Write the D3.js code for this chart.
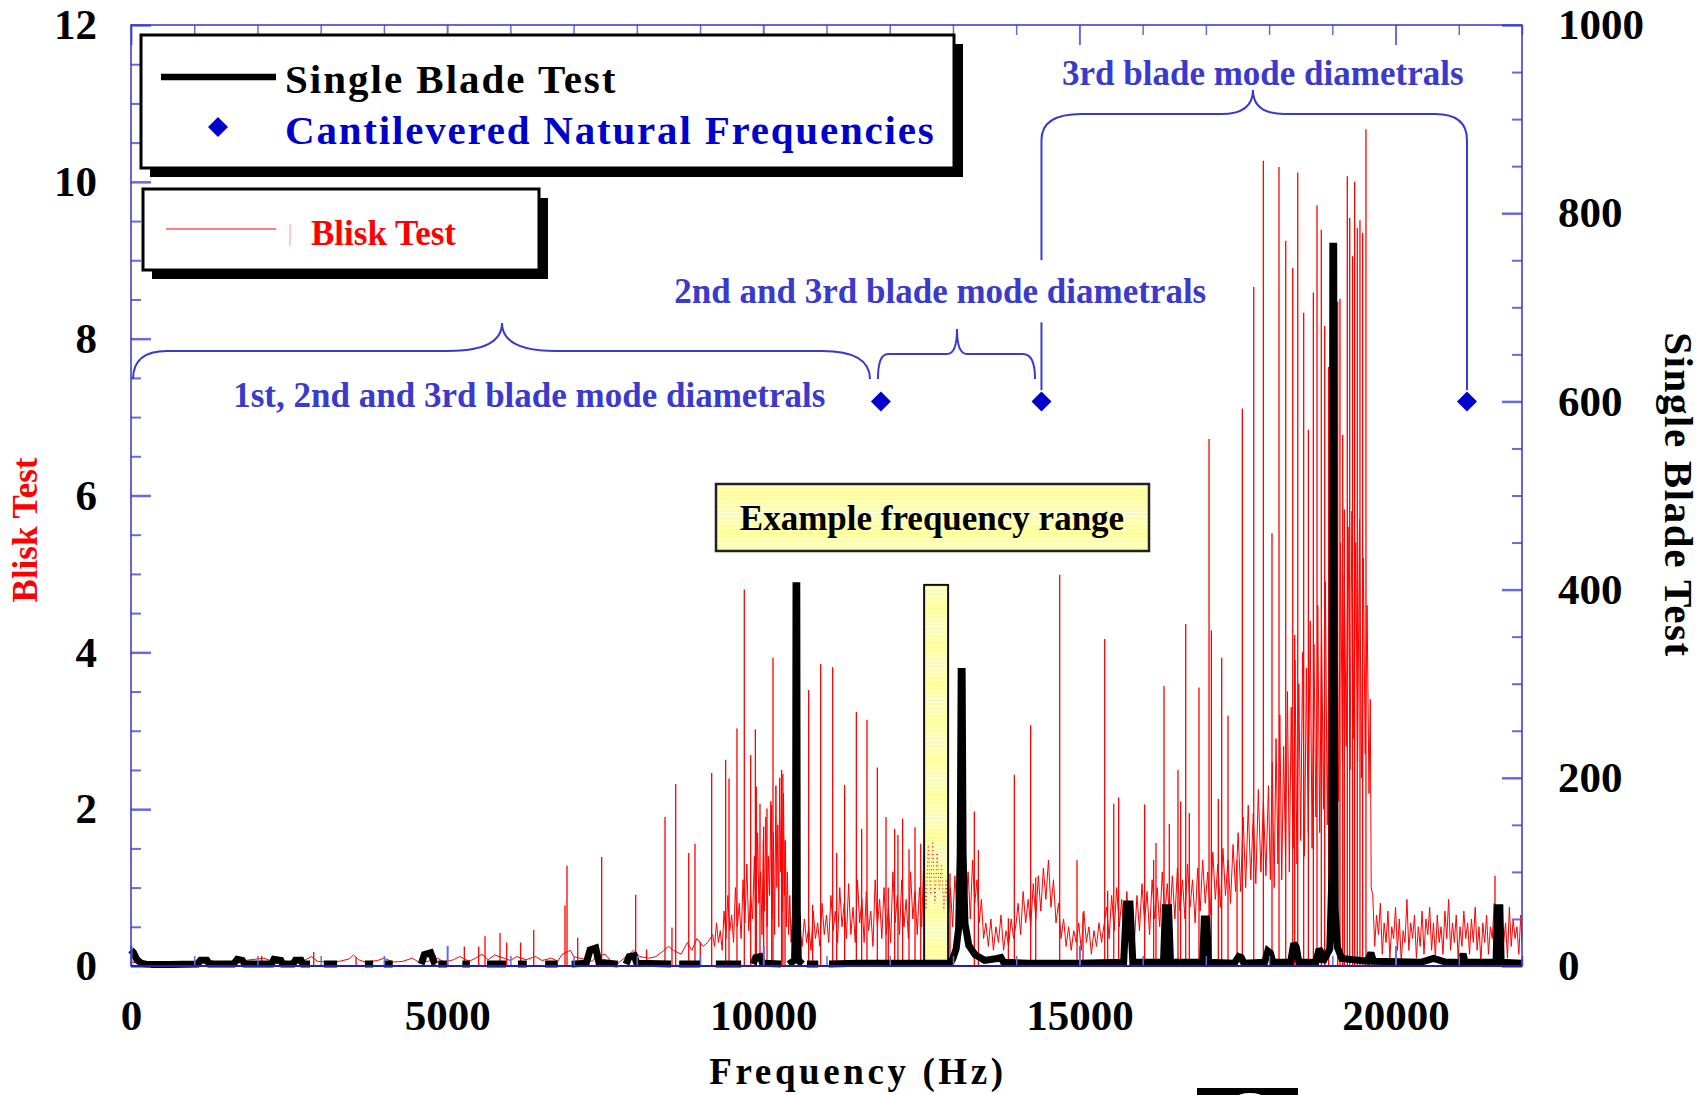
<!DOCTYPE html>
<html><head><meta charset="utf-8">
<script src="https://cdn.jsdelivr.net/npm/d3@7"></script>
<style>
html,body{margin:0;padding:0;background:#fff;}
svg{display:block;}
text{font-family:"Liberation Serif","Times New Roman",serif;font-weight:bold;}
</style></head><body>
<svg id="chart" width="1701" height="1095"></svg>
<script>
// ---------------- DATA ----------------
// Blisk Test (left axis): resonance peaks [Hz, amplitude]
const bliskPeaks = [
 [1239,0.10],[2067,0.13],[2890,0.18],[3559,0.11],[4808,0.14],[5272,0.25],[5499,0.25],[5599,0.38],
 [5836,0.42],[5942,0.30],[6163,0.30],[6369,0.46],[6864,0.77],[6896,1.28],[7065,0.36],[7444,1.39],
 [7982,0.91],[8156,0.21],[8446,1.90],[8556,0.49],[8615,2.32],[8821,1.44],[8920,1.56],[9004,0.31],
 [9184,2.46],[9405,2.63],[9458,2.39],[9584,3.03],[9700,4.80],[9801,2.69],[9875,3.02],[9890,2.29],
 [9948,2.07],[10006,1.78],[10059,2.01],[10133,2.05],[10154,3.93],[10290,2.50],[10310,2.45],[10344,1.60],
 [10718,3.52],[10781,0.78],[10908,3.85],[11098,3.81],[11161,1.44],[11287,2.31],[11472,3.24],[11556,1.75],
 [11640,3.14],[11804,2.53],[11941,1.90],[11977,1.00],[12078,1.75],[12130,1.67],[12204,1.88],[12305,1.49],
 [12400,1.77],[12490,1.56],[12953,1.18],[13338,1.97],[13402,1.48],[13876,0.61],[13971,2.44],[14229,3.07],
 [14309,1.13],[14688,4.99],[14962,1.35],[15057,0.68],[15400,4.17],[15447,0.96],[15543,2.07],[15621,2.15],
 [16032,2.06],[16174,1.35],[16211,1.57],[16338,3.57],[16422,1.81],[16559,2.50],[16601,2.10],[16681,4.36],
 [16738,1.95],[16891,3.55],[17050,6.72],[17087,4.28],[17197,2.13],[17250,3.93],[17350,3.19],[17493,1.35],
 [17577,7.11],[17757,8.66],[17909,10.27],[18046,5.52],[18157,10.19],[18263,9.25],[18374,8.90],[18405,4.22],
 [18453,10.12],[18547,8.33],[18621,6.84],[18700,8.59],[18758,9.70],[18826,9.39],[18879,8.16],[18942,7.64],
 [19085,8.47],[19121,8.51],[19164,6.77],[19190,5.82],[19237,10.07],[19275,9.54],[19321,9.05],[19353,10.00],
 [19395,9.41],[19437,9.51],[19480,9.35],[19532,10.67],[21573,1.15]
];
// Blisk Test noise floor between peaks [Hz, amplitude]
const bliskFloor = [
 [0,0.05],[200,0.03],[600,0.04],[1000,0.05],[1200,0.08],[1300,0.06],[1500,0.04],[2000,0.09],[2100,0.10],[2300,0.04],[2700,0.05],
 [2850,0.12],[2950,0.06],[3100,0.05],[3300,0.06],[3450,0.09],[3520,0.14],[3600,0.08],[3700,0.05],[3900,0.07],[4000,0.10],
 [4150,0.05],[4300,0.06],[4450,0.10],[4550,0.05],[4700,0.06],[4850,0.10],[4950,0.05],
 [5100,0.08],[5200,0.12],[5350,0.06],[5450,0.10],[5550,0.15],[5650,0.08],[5750,0.14],[5900,0.10],[6000,0.07],[6100,0.12],
 [6250,0.08],[6400,0.12],[6500,0.07],[6650,0.10],[6750,0.06],[6820,0.15],[6950,0.20],[7000,0.12],
 [7100,0.10],[7200,0.08],[7300,0.06],[7350,0.12],[7500,0.15],[7600,0.05],[7700,0.03],[7800,0.10],[7950,0.20],[8050,0.12],
 [8200,0.10],[8300,0.12],[8400,0.18],[8500,0.25],[8580,0.20],[8700,0.15],[8800,0.30],[8870,0.20],[8950,0.35],[9050,0.25],[9120,0.30],
 [9200,0.40],[9230,0.25],[9260,0.55],[9290,0.30],[9320,0.45],[9350,0.20],[9380,0.70],[9410,0.35],[9440,0.90],[9470,0.45],
 [9500,0.65],[9530,0.30],[9560,1.00],[9590,0.50],[9620,0.80],[9650,0.35],[9680,1.10],[9710,0.55],[9740,1.30],[9770,0.45],
 [9800,0.90],[9830,0.60],[9860,1.40],[9880,0.50],[9910,1.70],[9930,0.80],[9960,1.20],[9980,0.40],[10000,1.60],[10020,0.70],
 [10040,1.90],[10060,0.50],[10080,1.40],[10100,0.90],[10120,2.10],[10140,0.60],[10160,1.70],[10180,0.40],[10200,2.30],[10215,1.00],
 [10230,1.80],[10245,0.50],[10260,2.40],[10275,1.20],[10290,2.00],[10305,0.70],[10320,2.20],[10335,0.90],[10350,1.60],[10365,0.50],
 [10380,1.20],[10400,0.40],[10420,0.90],[10440,0.30],[10460,0.60],[10480,0.25],
 [10510,0.35],[10545,0.20],[10580,0.45],[10615,0.25],[10650,0.60],[10685,0.30],[10720,0.50],[10755,0.20],[10790,0.70],[10825,0.35],
 [10860,0.55],[10895,0.25],[10930,0.80],[10965,0.40],[11000,0.65],[11035,0.30],[11070,0.90],[11105,0.45],[11140,0.70],[11175,0.30],
 [11210,1.00],[11245,0.50],[11280,0.80],[11315,0.35],[11350,1.05],[11385,0.40],[11420,0.75],[11455,0.30],[11490,1.10],[11525,0.55],
 [11560,0.85],[11595,0.30],[11630,0.95],[11665,0.45],[11700,0.70],[11735,0.25],[11770,1.10],[11805,0.50],[11840,0.85],[11875,0.35],
 [11910,1.00],[11945,0.40],[11980,0.75],[12015,0.30],[12050,1.20],[12085,0.55],[12120,0.90],[12155,0.40],[12190,1.10],[12225,0.50],
 [12260,0.85],[12295,0.35],[12330,1.20],[12365,0.60],[12400,0.95],[12435,0.40],[12470,1.00],[12505,0.50],
 [12540,1.40],[12575,0.70],[12610,1.55],[12645,0.90],[12680,1.60],[12715,0.80],[12750,1.45],[12785,0.95],[12820,1.30],[12855,0.70],
 [12890,1.10],[12925,0.60],[12960,1.00],[12995,0.50],[13030,1.15],[13065,0.70],[13100,0.90],[13135,0.60],[13170,1.30],[13205,0.75],
 [13240,1.20],[13275,0.60],[13310,1.35],[13345,0.80],[13380,1.10],[13415,0.55],[13450,0.85],[13485,0.35],
 [13520,0.55],[13560,0.25],[13600,0.60],[13640,0.20],[13680,0.50],[13720,0.30],[13760,0.65],[13800,0.20],[13840,0.45],[13880,0.25],
 [13920,0.60],[13960,0.35],[14000,0.55],[14030,0.80],[14070,0.40],[14110,0.95],[14150,0.55],[14190,0.85],[14230,0.50],[14270,1.05],
 [14310,0.60],[14350,1.15],[14390,0.70],[14430,1.25],[14470,0.85],[14510,1.35],[14550,0.75],[14590,1.10],[14630,0.55],[14670,0.80],
 [14710,0.35],[14750,0.60],[14790,0.25],[14830,0.50],[14870,0.20],[14910,0.45],[14950,0.30],[14990,0.55],[15030,0.20],[15070,0.70],
 [15110,0.30],[15150,0.50],[15190,0.15],[15230,0.45],[15270,0.25],[15310,0.55],[15350,0.30],
 [15430,0.75],[15470,0.35],[15510,0.90],[15550,0.45],[15590,1.00],[15630,0.50],[15670,0.85],[15710,0.35],[15750,0.95],[15790,0.40],
 [15830,0.80],[15870,0.30],[15910,0.90],[15950,0.45],[15990,1.05],[16030,0.55],[16070,0.95],[16110,0.40],[16150,1.10],[16190,0.60],
 [16230,1.00],[16270,0.50],[16310,1.20],[16350,0.65],[16390,1.05],[16430,0.55],[16470,1.15],[16510,0.60],[16550,1.25],[16590,0.70],
 [16630,1.10],[16670,0.60],[16710,1.30],[16750,0.75],[16790,1.10],[16830,0.55],[16870,1.25],[16910,0.70],[16950,1.35],[16990,0.80],
 [17030,1.20],[17070,0.65],[17110,1.45],[17150,0.85],[17190,1.30],[17230,0.75],[17270,1.50],[17310,0.90],[17350,1.35],[17390,0.80],
 [17430,1.55],[17470,0.95],[17510,1.70],[17550,0.95],[17590,1.90],[17630,1.00],[17670,2.05],[17710,1.10],[17750,1.95],[17790,1.05],
 [17830,2.25],[17870,1.20],[17910,2.10],[17950,1.15],[17990,2.30],
 [18020,1.10],[18050,2.60],[18080,1.00],[18110,2.90],[18140,1.30],[18170,3.20],[18200,1.10],[18230,2.80],[18260,1.40],[18290,3.50],
 [18320,1.20],[18350,3.30],[18380,1.50],[18410,3.90],[18440,1.30],[18470,3.60],[18500,1.60],[18530,4.00],[18560,1.40],[18590,3.80],
 [18620,1.70],[18650,4.40],[18680,1.50],[18710,4.10],[18740,1.90],[18770,4.60],[18800,1.70],[18830,4.30],[18860,2.00],[18890,4.90],
 [18920,1.80],[18950,4.50],[18980,2.20],[19010,4.80],[19040,2.40],[19070,5.10],[19100,2.10],[19130,5.40],[19160,2.60],[19190,5.00],
 [19220,2.80],[19250,5.60],[19280,2.50],[19310,5.80],[19340,2.90],[19370,5.40],[19400,2.60],[19430,5.70],[19460,2.40],[19490,5.20],
 [19520,2.70],[19550,4.60],[19580,2.20],[19600,3.40],[19615,1.00],
 [19640,0.90],[19670,0.25],[19700,0.65],[19730,0.40],[19760,0.80],[19790,0.15],[19820,0.55],[19850,0.30],[19880,0.70],[19910,0.10],
 [19940,0.50],[19970,0.35],[20000,0.75],[20030,0.20],[20060,0.60],[20090,0.05],[20120,0.45],[20150,0.30],[20180,0.85],[20210,0.20],
 [20240,0.55],[20270,0.35],[20300,0.65],[20330,0.10],[20360,0.50],[20390,0.25],[20420,0.70],[20450,0.15],[20480,0.60],[20510,0.40],
 [20540,0.75],[20570,0.20],[20600,0.55],[20630,0.10],[20660,0.65],[20690,0.30],[20720,0.50],[20750,0.15],[20780,0.70],[20810,0.35],
 [20840,0.85],[20870,0.20],[20900,0.55],[20930,0.30],[20960,0.65],[20990,0.10],[21020,0.50],[21050,0.25],[21080,0.70],[21110,0.35],
 [21140,0.55],[21170,0.15],[21200,0.60],[21230,0.30],[21260,0.75],[21290,0.20],[21320,0.50],[21350,0.05],[21380,0.55],[21410,0.30],
 [21440,0.65],[21470,0.15],[21500,0.50],[21530,0.35],[21560,0.80],[21590,0.20],[21620,0.60],[21650,0.25],[21680,0.70],[21710,0.30],
 [21740,0.55],[21770,0.10],[21800,0.75],[21830,0.25],[21860,0.60],[21890,0.35],[21920,0.50],[21950,0.15],[21980,0.65],[22000,0.30]
];
// Single Blade Test (right axis) [Hz, amplitude]; null = gap in trace
const singleBladeTest = [
 [0,17],[40,14],[90,7],[160,3],[260,1.5],[600,1.5],[1050,2],[1100,6],[1200,6],[1240,2],[1620,2],[1680,7],[1760,6],[1800,2],
 [2220,2],[2260,7],[2370,6],[2400,2],[2560,2],[2600,6],[2690,6],[2720,2],[2831,2],[2832,null],
 [3050,2],[3260,2],[3261,null],[3700,2],[3830,2],[3831,null],[4000,2],[4140,2],[4141,null],
 [4590,2],[4640,12],[4740,14],[4800,3],[4810,2],[4811,null],[4860,2],[5000,2],[5001,null],
 [5240,2],[5360,2],[5361,null],[5630,2],[5930,2],[5931,null],[6120,2],[6260,2],[6261,null],
 [6550,2],[6750,2],[6751,null],[6970,2],[7200,3],[7260,17],[7350,19],[7400,4],[7700,2],[7701,null],
 [7830,2],[7880,10],[7960,11],[8000,3],[8540,2],[8541,null],[8670,2],[9000,2],[9001,null],
 [9250,2],[9650,2],[9651,null],[9840,2],[9880,9],[9950,10],[9990,3],[10280,2],[10281,null],
 [10400,2],[10495,6],[10510,60],[10518,404],[10530,404],[10538,60],[10555,6],[10620,2],[10621,null],
 [10690,2],[10870,2],[10871,null],
 [11040,2],[11500,3],[12000,3],[12500,3],[12960,3],[13000,8],[13050,18],[13090,40],[13115,120],[13130,313],
 [13145,313],[13160,120],[13190,45],[13250,22],[13350,12],[13500,6],[13700,8],[13760,9],[13800,4],[14200,3],
 [15000,3],[15700,4],[15745,66],[15800,66],[15845,4],[16330,4],[16360,62],[16410,62],[16440,4],
 [16950,4],[16975,50],[17015,50],[17040,4],[17450,3],[17520,10],[17560,9],[17600,3],[17930,4],[17980,16],
 [18020,14],[18060,4],[18340,4],[18390,24],[18430,20],[18470,4],[18740,4],[18790,18],[18820,15],[18850,4],
 [18960,18],[18995,100],[19008,765],[19022,765],[19030,300],[19045,60],[19080,20],[19150,8],[19560,5],
 [19610,14],[19650,5],[20400,4],[20600,8],[20800,4],[21030,4],[21068,13],[21100,4],[21590,4],[21610,62],
 [21650,62],[21670,4],[22000,3]
];
// Cantilevered natural frequencies (plotted on right axis)
const naturalFreqs = [11860, 14400, 21130];
const naturalLevel = [600, 600, 600];

// Axis ticks
const xMajorTicks = [0, 5000, 10000, 15000, 20000];
const xTickLabels = ["0", "5000", "10000", "15000", "20000"];
const leftMajorTicks = [0, 2, 4, 6, 8, 10, 12];
const leftTickLabels = ["0", "2", "4", "6", "8", "10", "12"];
const rightMajorTicks = [0, 200, 400, 600, 800, 1000];
const rightTickLabels = ["0", "200", "400", "600", "800", "1000"];

// Annotations (x in Hz, y in right-axis units)
const braceLabels = ["1st, 2nd and 3rd blade mode diametrals", "2nd and 3rd blade mode diametrals", "3rd blade mode diametrals"];
const braceSpans = [[32, 11688, 5868], [11814, 14298, 13064], [14400, 21130, 17745]]; // [start, end, tip]
const braceLevels = [[623.8, 653.6, 683.3], [623.8, 650.4, 677], [877.8, 905.4, 931]]; // [end, line, tip]
const braceLabelPos = [[6300, 594], [12800, 705], [17900, 936]];
const connectors = [[14400, 877.8, 750], [14400, 684, 612], [21130, 877.8, 612]];
const exampleRange = [12544, 12923, 405]; // Hz from, Hz to, right-axis top

// ---------------- DRAWING ----------------
const svg = d3.select("#chart");
const L = 131, R = 1522, T = 25, B = 966;
const x = d3.scaleLinear().domain([0, 22000]).range([L, R]);
const yL = d3.scaleLinear().domain([0, 12]).range([B, T]);
const yR = d3.scaleLinear().domain([0, 1000]).range([B, T]);

const AX = "#3535cc", TICK = "#6a6ae0", ANN = "#3a3acc";

const defs = svg.append("defs");
const pat = defs.append("pattern").attr("id", "stripes").attr("patternUnits", "userSpaceOnUse")
  .attr("width", 10).attr("height", 3.8);
pat.append("rect").attr("width", 10).attr("height", 2.8).attr("fill", "#ffff99");
defs.append("clipPath").attr("id", "plotclip").append("rect")
  .attr("x", L - 6).attr("y", T).attr("width", R - L + 6).attr("height", B - T + 8);

// data layers
const data = svg.append("g").attr("clip-path", "url(#plotclip)");
const lineL = d3.line().x(d => x(d[0])).y(d => yL(d[1]));
data.append("path").datum(bliskFloor).attr("d", lineL)
  .attr("fill", "none").attr("stroke", "#ff0000").attr("stroke-width", 1);
data.append("g").selectAll("line").data(bliskPeaks).join("line")
  .attr("x1", d => x(d[0])).attr("x2", d => x(d[0]))
  .attr("y1", yL(0)).attr("y2", d => yL(d[1]))
  .attr("stroke", "#ff0000").attr("stroke-width", 1.3);

// example narrow range rectangle
data.append("rect")
  .attr("x", x(exampleRange[0])).attr("y", yR(exampleRange[2]))
  .attr("width", x(exampleRange[1]) - x(exampleRange[0])).attr("height", yR(0) - yR(exampleRange[2]) - 3)
  .attr("fill", "url(#stripes)").attr("stroke", "#111").attr("stroke-width", 2);

const lineR = d3.line().defined(d => d[1] !== null).x(d => x(d[0])).y(d => yR(d[1]));
data.append("path").datum(singleBladeTest).attr("d", lineR)
  .attr("fill", "none").attr("stroke", "#000").attr("stroke-width", 7)
  .attr("stroke-linejoin", "miter").attr("stroke-miterlimit", 2);

// axes
function styleAxis(g, w) {
  g.select(".domain").remove();
  g.selectAll(".tick line").attr("stroke", TICK).attr("stroke-width", w);
  g.selectAll("text").attr("font-size", 43).attr("fill", "#000")
    .attr("font-family", "Liberation Serif, serif").attr("font-weight", "bold");
}
const minorX = d3.range(0, 22001, 1000).filter(v => v % 5000 !== 0);
const minorL = d3.range(0, 12.01, 0.5).filter(v => v % 2 !== 0);
const minorR = d3.range(0, 1001, 50).filter(v => v % 200 !== 0);

svg.append("g").attr("transform", `translate(0,${B})`)
  .call(d3.axisBottom(x).tickValues(minorX).tickSize(-10).tickFormat("")).call(g => styleAxis(g, 1.5));
svg.append("g").attr("transform", `translate(0,${B})`)
  .call(d3.axisBottom(x).tickValues(xMajorTicks).tickSize(-20).tickFormat((d, i) => xTickLabels[i]))
  .call(g => styleAxis(g, 2))
  .call(g => g.selectAll("text").attr("y", 64).attr("dy", null));
svg.append("g").attr("transform", `translate(0,${T})`)
  .call(d3.axisTop(x).tickValues(minorX).tickSize(-10).tickFormat("")).call(g => styleAxis(g, 1.5));
svg.append("g").attr("transform", `translate(0,${T})`)
  .call(d3.axisTop(x).tickValues(xMajorTicks).tickSize(-20).tickFormat("")).call(g => styleAxis(g, 2));

svg.append("g").attr("transform", `translate(${L},0)`)
  .call(d3.axisLeft(yL).tickValues(minorL).tickSize(-10).tickFormat("")).call(g => styleAxis(g, 2));
svg.append("g").attr("transform", `translate(${L},0)`)
  .call(d3.axisLeft(yL).tickValues(leftMajorTicks).tickSize(-20).tickPadding(34).tickFormat((d, i) => leftTickLabels[i]))
  .call(g => styleAxis(g, 2.5));

svg.append("g").attr("transform", `translate(${R},0)`)
  .call(d3.axisRight(yR).tickValues(minorR).tickSize(-10).tickFormat("")).call(g => styleAxis(g, 2));
svg.append("g").attr("transform", `translate(${R},0)`)
  .call(d3.axisRight(yR).tickValues(rightMajorTicks).tickSize(-20).tickPadding(36).tickFormat((d, i) => rightTickLabels[i]))
  .call(g => styleAxis(g, 2.5));

// frame
svg.append("rect").attr("x", L).attr("y", T).attr("width", R - L).attr("height", B - T)
  .attr("fill", "none").attr("stroke", AX).attr("stroke-width", 1.5);
svg.append("line").attr("x1", L).attr("x2", R).attr("y1", B).attr("y2", B)
  .attr("stroke", "#2222aa").attr("stroke-width", 2);

// axis titles
svg.append("text").attr("x", 858).attr("y", 1084).attr("text-anchor", "middle")
  .attr("font-size", 37).attr("letter-spacing", 3.6).attr("fill", "#000").text("Frequency (Hz)");
svg.append("text").attr("transform", "translate(1665,495) rotate(90)").attr("text-anchor", "middle")
  .attr("font-size", 41).attr("letter-spacing", 1.6).attr("fill", "#000").text("Single Blade Test");
svg.append("text").attr("transform", "translate(37,530) rotate(-90)").attr("text-anchor", "middle")
  .attr("font-size", 35).attr("fill", "#ff0000").text("Blisk Test");

// braces
const braceR = [[34, 54, 48], [10, 10, 12], [40, 32, 32]];
const ann = svg.append("g");
braceSpans.forEach((s, i) => {
  const [x1, x2, xt] = s.map(x);
  const [ye, yl, yt] = braceLevels[i].map(yR);
  const [r1, rt, r2] = braceR[i];
  const p = d3.path();
  p.moveTo(x1, ye);
  p.quadraticCurveTo(x1, yl, x1 + r1, yl);
  p.lineTo(xt - rt, yl);
  p.quadraticCurveTo(xt, yl, xt, yt);
  p.quadraticCurveTo(xt, yl, xt + rt, yl);
  p.lineTo(x2 - r2, yl);
  p.quadraticCurveTo(x2, yl, x2, ye);
  ann.append("path").attr("d", p.toString()).attr("fill", "none").attr("stroke", ANN).attr("stroke-width", 2);
  ann.append("text").attr("x", x(braceLabelPos[i][0])).attr("y", yR(braceLabelPos[i][1]))
    .attr("text-anchor", "middle").attr("font-size", 35).attr("fill", ANN).text(braceLabels[i]);
});
ann.selectAll("line.conn").data(connectors).join("line").attr("class", "conn")
  .attr("x1", d => x(d[0])).attr("x2", d => x(d[0])).attr("y1", d => yR(d[1])).attr("y2", d => yR(d[2]))
  .attr("stroke", ANN).attr("stroke-width", 2);

// natural frequency diamonds
const diamond = "M0,-10L10,0L0,10L-10,0Z";
svg.append("g").selectAll("path").data(naturalFreqs).join("path")
  .attr("transform", (d, i) => `translate(${x(d)},${yR(naturalLevel[i])})`)
  .attr("d", diamond).attr("fill", "#0000cc");

// Example frequency range label
const ex = svg.append("g");
ex.append("rect").attr("x", 716).attr("y", 484).attr("width", 433).attr("height", 67).attr("fill", "#fff");
ex.append("rect").attr("x", 716).attr("y", 484).attr("width", 433).attr("height", 67)
  .attr("fill", "url(#stripes)").attr("stroke", "#222").attr("stroke-width", 2.5);
ex.append("text").attr("x", 932).attr("y", 530).attr("text-anchor", "middle")
  .attr("font-size", 35).attr("fill", "#000").text("Example frequency range");

// legends
function shadowBox(g, bx, by, bw, bh, off) {
  g.append("rect").attr("x", bx + off).attr("y", by + off).attr("width", bw).attr("height", bh).attr("fill", "#000");
  g.append("rect").attr("x", bx).attr("y", by).attr("width", bw).attr("height", bh)
    .attr("fill", "#fff").attr("stroke", "#000").attr("stroke-width", 3);
}
const lg1 = svg.append("g");
shadowBox(lg1, 141, 35, 813, 133, 9);
lg1.append("line").attr("x1", 161).attr("x2", 276).attr("y1", 77).attr("y2", 77).attr("stroke", "#000").attr("stroke-width", 6.5);
lg1.append("text").attr("x", 285).attr("y", 93).attr("font-size", 41).attr("letter-spacing", 2).attr("fill", "#000").text("Single Blade Test");
lg1.append("path").attr("transform", "translate(218,127)").attr("d", diamond).attr("fill", "#0000cc");
lg1.append("text").attr("x", 285).attr("y", 144).attr("font-size", 41).attr("letter-spacing", 1.8).attr("fill", "#0000cc").text("Cantilevered Natural Frequencies");

const lg2 = svg.append("g");
shadowBox(lg2, 143, 189, 396, 81, 9);
lg2.append("line").attr("x1", 166).attr("x2", 276).attr("y1", 229).attr("y2", 229).attr("stroke", "#ff0000").attr("stroke-width", 1);
lg2.append("line").attr("x1", 290).attr("x2", 290).attr("y1", 224).attr("y2", 246).attr("stroke", "#ff9999").attr("stroke-width", 1);
lg2.append("text").attr("x", 311).attr("y", 245).attr("font-size", 35).attr("fill", "#ff0000").text("Blisk Test");

// cropped element at bottom edge
svg.append("rect").attr("x", 1197).attr("y", 1088).attr("width", 101).attr("height", 10).attr("fill", "#000");
svg.append("ellipse").attr("cx", 1250).attr("cy", 1098).attr("rx", 14).attr("ry", 5).attr("fill", "#fff");
</script></body></html>
